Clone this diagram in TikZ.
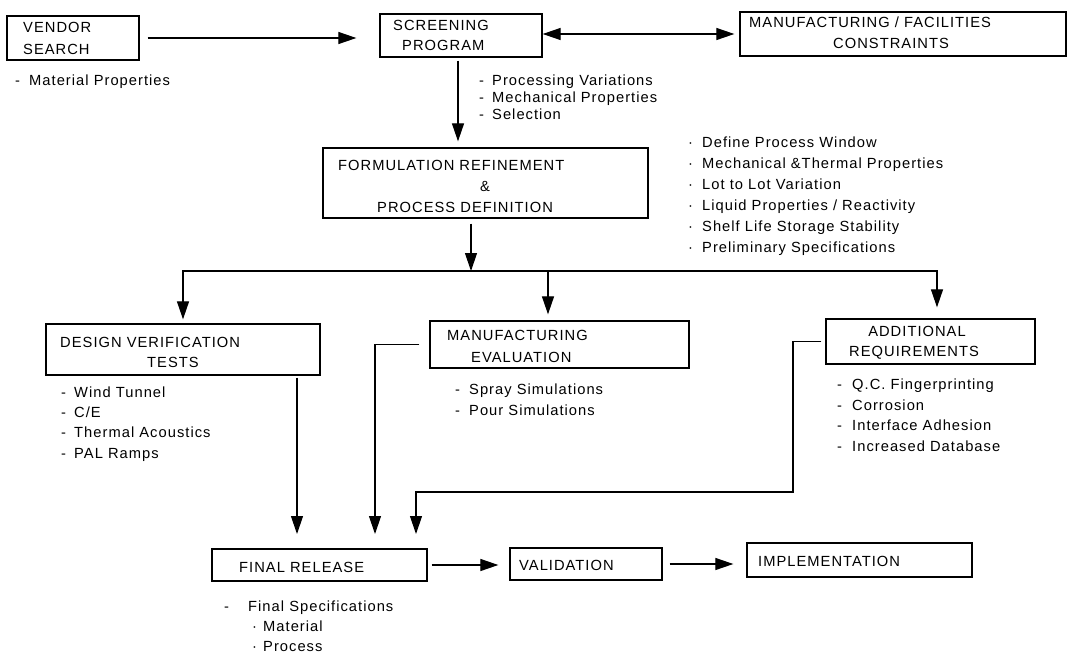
\documentclass[tikz,border=0pt]{standalone}
\usepackage{fontspec}
\setmainfont{Liberation Sans}[LetterSpace=7]
\usetikzlibrary{arrows.meta}
\begin{document}
\begin{tikzpicture}[x=1pt,y=-1pt,
  box/.style={draw, line width=1.3pt, inner sep=0},
  txt/.style={anchor=base west, inner sep=0, font=\fontsize{14.7}{17}\selectfont},
  ctxt/.style={txt, anchor=base},
  arr/.style={line width=1.2pt, -{Triangle[length=18pt,width=12pt]}},
  darr/.style={line width=1.2pt, {Triangle[length=18pt,width=12pt]}-{Triangle[length=18pt,width=12pt]}}]
\useasboundingbox (0,0) rectangle (1077,656);
\fill[white] (0,0) rectangle (1077,656);

% boxes
\node[box, minimum width=132pt, minimum height=44pt] (vendor) at (73,38) {};
\node[box, minimum width=162pt, minimum height=43pt] (screen) at (461,35.5) {};
\node[box, minimum width=326pt, minimum height=44pt] (mfgfac) at (903,34) {};
\node[box, minimum width=325pt, minimum height=70pt] (form) at (485.5,183) {};
\node[box, minimum width=274pt, minimum height=51pt] (design) at (183,349.5) {};
\node[box, minimum width=259pt, minimum height=47pt] (mfgeval) at (559.5,344.5) {};
\node[box, minimum width=209pt, minimum height=45pt] (addreq) at (930.5,341.5) {};
\node[box, minimum width=215pt, minimum height=32pt] (final) at (319.5,565) {};
\node[box, minimum width=152pt, minimum height=32pt] (valid) at (586,564) {};
\node[box, minimum width=225pt, minimum height=34pt] (impl) at (859.5,560) {};

% box texts
\node[txt] (tv1) at (23,32) {VENDOR};
\node[txt] (tv2) at (23,54) {SEARCH};
\node[txt] (ts1) at (393,30) {SCREENING};
\node[txt] (ts2) at (402,50) {PROGRAM};
\node[txt] (tm1) at (749,27) {MANUFACTURING / FACILITIES};
\node[ctxt] (tm2) at (891,48) {CONSTRAINTS};
\node[txt] (tf1) at (338,170) {FORMULATION REFINEMENT};
\node[ctxt] (tf2) at (485,191) {\&};
\node[txt] (tf3) at (377,212) {PROCESS DEFINITION};
\node[txt] (td1) at (60,347) {DESIGN VERIFICATION};
\node[txt] (td2) at (147,367) {TESTS};
\node[txt] (te1) at (447,340) {MANUFACTURING};
\node[txt] (te2) at (471,362) {EVALUATION};
\node[ctxt] (ta1) at (917,336) {ADDITIONAL};
\node[txt] (ta2) at (849,356) {REQUIREMENTS};
\node[txt] (tr1) at (239,572) {FINAL RELEASE};
\node[txt] (tva) at (519,570) {VALIDATION};
\node[txt] (tim) at (758,566) {IMPLEMENTATION};

% lists
\node[txt] (lv1) at (15,85) {\makebox[14pt][l]{-}Material Properties};

\node[txt] (lp1) at (479,85) {\makebox[13pt][l]{-}Processing Variations};
\node[txt] (lp2) at (479,102) {\makebox[13pt][l]{-}Mechanical Properties};
\node[txt] (lp3) at (479,119) {\makebox[13pt][l]{-}Selection};

\node[txt] (lr1) at (688,147) {\makebox[14pt][l]{·}Define Process Window};
\node[txt] (lr2) at (688,168) {\makebox[14pt][l]{·}Mechanical \&Thermal Properties};
\node[txt] (lr3) at (688,189) {\makebox[14pt][l]{·}Lot to Lot Variation};
\node[txt] (lr4) at (688,210) {\makebox[14pt][l]{·}Liquid Properties / Reactivity};
\node[txt] (lr5) at (688,231) {\makebox[14pt][l]{·}Shelf Life Storage Stability};
\node[txt] (lr6) at (688,252) {\makebox[14pt][l]{·}Preliminary Specifications};

\node[txt] (ld1) at (61,397) {\makebox[13pt][l]{-}Wind Tunnel};
\node[txt] (ld2) at (61,417) {\makebox[13pt][l]{-}C/E};
\node[txt] (ld3) at (61,437) {\makebox[13pt][l]{-}Thermal Acoustics};
\node[txt] (ld4) at (61,458) {\makebox[13pt][l]{-}PAL Ramps};

\node[txt] (le1) at (455,394) {\makebox[14pt][l]{-}Spray Simulations};
\node[txt] (le2) at (455,415) {\makebox[14pt][l]{-}Pour Simulations};

\node[txt] (la1) at (837,389) {\makebox[15pt][l]{-}Q.C. Fingerprinting};
\node[txt] (la2) at (837,410) {\makebox[15pt][l]{-}Corrosion};
\node[txt] (la3) at (837,430) {\makebox[15pt][l]{-}Interface Adhesion};
\node[txt] (la4) at (837,451) {\makebox[15pt][l]{-}Increased Database};

\node[txt] (lf1) at (224,611) {\makebox[24pt][l]{-}Final Specifications};
\node[txt] (lf2) at (252,631) {\makebox[11pt][l]{·}Material};
\node[txt] (lf3) at (252,651) {\makebox[11pt][l]{·}Process};

% coordinates for free ends
\coordinate (br) at (471,271);
\coordinate (t1) at (297,534);
\coordinate (t2) at (375,534);
\coordinate (c1) at (793,492);
\coordinate (t3) at (416,534);

% connectors
\draw[arr, shorten <=8pt, shorten >=23pt] (vendor.east) -- (vendor.east -| screen.west);
\draw[darr, shorten >=5pt] (screen.east |- mfgfac.west) -- (mfgfac.west);
\draw[arr, shorten <=3pt, shorten >=6pt] ([xshift=-3pt]screen.south) -- ([xshift=-3pt]screen.south |- form.north);
\draw[arr, shorten <=5pt] ([xshift=-14.5pt]form.south) -- (br);
\draw[arr, shorten >=4pt] (br) -| (design.north);
\draw[arr, shorten >=11pt] (br) -| ([xshift=6.5pt]addreq.north);
\draw[arr, shorten >=6pt] (br -| mfgeval.north) ++(-11.5pt,0) -- ([xshift=-11.5pt]mfgeval.north);
\draw[arr, shorten <=2pt] (design.south -| t1) -- (t1);
\draw[arr, shorten <=10pt] (mfgeval.west) -| (t2);
\draw[arr, shorten <=4pt] (addreq.west) -| (c1) -| (t3);
\draw[arr, shorten <=4pt, shorten >=11pt] (final.east) -- (final.east -| valid.west);
\draw[arr, shorten <=7pt, shorten >=13pt] (valid.east) -- (valid.east -| impl.west);
\end{tikzpicture}
\end{document}
